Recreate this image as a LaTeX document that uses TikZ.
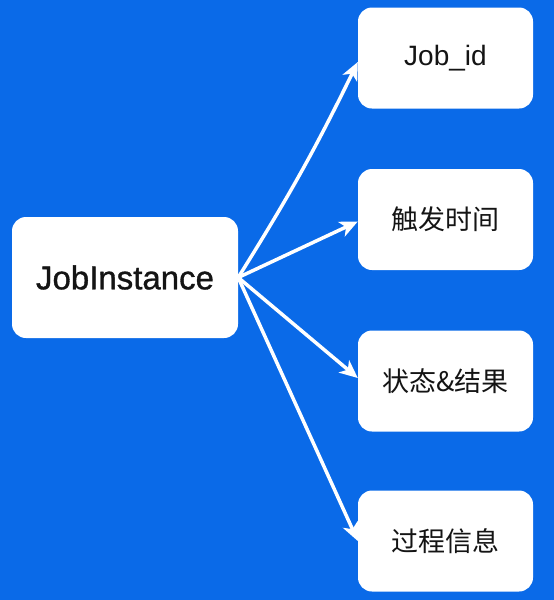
\documentclass[tikz,border=0pt]{standalone}
\usepackage{fontspec}
\setmainfont{Liberation Sans}
\newfontfamily\cjk{Noto Sans CJK SC}
\usetikzlibrary{arrows.meta}
\definecolor{bgblue}{RGB}{10,106,232}
\definecolor{txt}{RGB}{20,20,20}
\tikzset{
  box/.style={draw=none, fill=white, rounded corners=14pt, text=txt,
    minimum width=175pt, minimum height=101pt, inner sep=0pt},
  mainbox/.style={box, minimum width=226pt, minimum height=121pt,
    font=\fontsize{33pt}{38pt}\selectfont\addfontfeature{FakeBold=1}},
  sidebox/.style={box, font=\fontsize{27pt}{32pt}\selectfont\cjk},
  conn/.style={draw=white, line width=3.5pt, -{Stealth[length=18pt,width=16pt,inset=5pt]}}
}
\begin{document}
\begin{tikzpicture}[x=1pt,y=-1pt]
\fill[bgblue] (0,0) rectangle (554,600);
\useasboundingbox (0,0) rectangle (554,600);
\node[mainbox] (ji) at (125,277.5) {JobInstance};
\node[box, font=\fontsize{28pt}{32pt}\selectfont] (t1) at (445.5,58) {Job\_id};
\node[sidebox] (t2) at (445.5,219.5) {触发时间};
\node[sidebox] (t3) at (445.5,381) {状态\&结果};
\node[sidebox] (t4) at (445.5,541) {过程信息};
\coordinate (o) at (ji.east);
\draw[conn] (o) to[bend right=3] ([yshift=-4pt]t1.west);
\draw[conn] (o) -- ([yshift=-2pt]t2.west);
\draw[conn] (o) -- ([yshift=3pt]t3.west);
\draw[conn] (o) -- (t4.west);
\end{tikzpicture}
\end{document}
